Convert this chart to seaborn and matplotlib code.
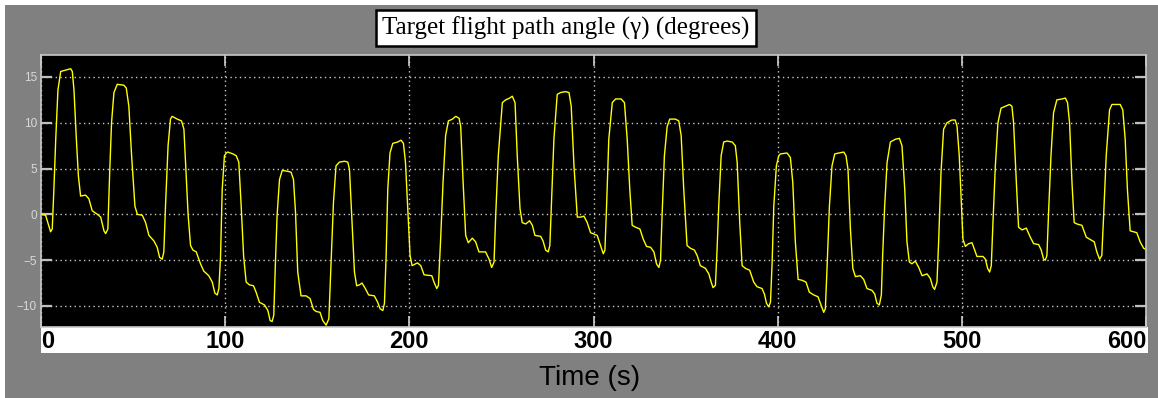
import matplotlib
matplotlib.use("Agg")
import matplotlib.pyplot as plt
from matplotlib.patches import Rectangle
import seaborn as sns
import pandas as pd

# ---- data ----
time_s = [
    0, 2.5, 5.2, 6.1, 7.0, 8.0, 9.2, 10.7, 14.3, 16.1, 17.0, 17.9, 19.2, 20.3, 21.5, 24.2, 26.0, 27.8, 30.6, 32.4, 34.2, 35.1, 36.3,
    37.3, 38.3, 39.6, 41.4, 45.0, 46.3, 47.7, 49.2, 51.0, 52.3, 55.0, 56.8, 58.6, 61.3, 63.1, 64.4, 65.8, 66.7,
    67.6, 69.0, 70.3, 71.2, 74.0, 76.3, 77.6, 78.5, 79.9, 81.2, 82.5, 84.3, 86.6, 88.4, 91.1, 93.0, 94.4, 95.7, 96.6,
    97.5, 98.4, 99.6, 100.6, 101.5, 104.2, 106.0, 107.4, 108.7, 110.0, 111.4, 113.2, 115.4, 116.8, 118.6, 121.4, 123.2, 124.4, 125.5, 126.4,
    127.3, 128.2, 129.5, 131.0, 134.0, 135.8, 137.1, 138.2, 139.4, 141.2, 144.0, 146.1, 148.0, 149.4, 151.5, 153.0, 154.8, 156.3,
    157.5, 158.8, 160.2, 162.0, 164.8, 166.6, 167.5, 168.9, 170.2, 171.4, 172.9, 174.3, 176.1, 177.9, 181.0, 182.8, 184.1, 185.6, 186.5,
    187.4, 188.3, 189.5, 191.0, 193.7, 195.5, 196.8, 197.9, 199.1, 200.4, 201.5, 204.4, 206.2, 208.0, 212.2, 213.4, 214.9, 215.8,
    217.0, 218.3, 219.7, 221.2, 223.4, 225.2, 227.0, 227.9, 229.2, 230.6, 232.0, 234.2, 236.0, 237.8, 241.4, 243.3, 244.7, 246.0,
    246.9, 248.3, 250.5, 252.3, 254.5, 255.9, 257.4, 258.6, 260.1, 261.3, 263.2, 265.3, 266.8, 268.2, 271.3, 272.6, 274.0, 275.4, 276.3,
    277.3, 278.5, 280.3, 282.1, 284.8, 286.7, 287.9, 289.4, 291.2, 293.0, 294.8, 296.6, 298.4, 300.8, 302.0, 303.8, 305.3, 306.2,
    307.1, 308.3, 310.2, 312.0, 315.0, 316.8, 318.3, 319.7, 321.0, 322.8, 325.2, 327.0, 328.8, 331.0, 332.8, 334.2, 335.5, 336.4,
    337.3, 338.5, 340.0, 341.4, 344.5, 346.3, 347.6, 349.0, 350.8, 352.6, 354.8, 356.3, 358.0, 360.8, 362.6, 363.9, 364.9, 366.2,
    367.1, 368.0, 369.3, 370.7, 372.5, 375.3, 377.0, 378.0, 379.4, 380.7, 382.5, 384.8, 387.0, 388.8, 391.5, 392.8, 393.9, 395.1, 396.1,
    397.0, 397.9, 399.3, 400.6, 401.5, 405.1, 406.9, 408.2, 409.6, 411.1, 413.3, 415.4, 417.2, 419.6, 421.9, 423.2, 425.0, 425.9,
    426.8, 428.1, 429.5, 431.0, 433.2, 435.9, 437.1, 438.2, 439.5, 440.8, 442.2, 444.9, 446.7, 448.5, 451.2, 452.7, 453.9, 455.2, 456.3,
    457.0, 458.1, 459.4, 461.2, 463.9, 466.1, 467.5, 469.0, 470.2, 471.5, 472.9, 474.7, 476.6, 478.4, 481.1, 482.9, 484.2, 485.2, 486.5,
    487.4, 488.7, 490.1, 491.9, 494.6, 496.4, 497.4, 498.6, 499.7, 500.6, 501.9, 503.7, 505.5, 506.8, 508.2, 511.5, 512.8, 514.0, 515.1, 516.0,
    516.9, 518.2, 519.6, 521.3, 523.6, 525.9, 527.2, 528.1, 529.6, 530.8, 532.7, 535.0, 537.2, 539.0, 541.7, 543.1, 544.4, 545.3, 546.2,
    547.1, 548.4, 549.8, 551.6, 554.4, 556.2, 557.4, 558.5, 559.8, 561.0, 562.5, 565.2, 567.6, 569.7, 571.9, 573.3, 574.8, 576.0,
    577.0, 578.4, 580.2, 581.5, 586.0, 587.4, 588.7, 589.9, 591.4, 593.2, 595.0, 596.8, 598.7, 600.5,
]
gamma_deg = [
    0, -0.1, -1.9, -1.6, 2.75, 8.2, 13.6, 15.6, 15.8, 15.9, 15.6, 13.6, 8.2, 4.2, 2.0, 2.1, 1.7, 0.4, 0.0, -0.3, -1.8, -2.1, -1.6,
    4.6, 10.0, 13.3, 14.2, 14.1, 13.8, 11.8, 6.4, 0.9, 0.0, -0.1, -0.9, -2.3, -2.9, -3.6, -4.7, -4.9, -4.1,
    0.9, 7.5, 10.4, 10.7, 10.4, 10.2, 9.3, 5.7, -0.1, -3.4, -3.9, -4.1, -5.4, -6.2, -6.7, -7.4, -8.6, -8.8, -8.1,
    -4.5, 2.75, 6.4, 6.7, 6.8, 6.6, 6.4, 5.7, 0.9, -4.5, -7.4, -7.7, -7.8, -8.5, -9.6, -9.9, -10.5, -11.6, -11.7, -11.0,
    -5.2, -0.1, 3.8, 4.8, 4.7, 4.6, 3.8, 0.2, -6.3, -8.9, -8.9, -9.2, -10.4, -10.6, -10.7, -11.6, -12.1, -11.4,
    -5.2, 1.3, 5.3, 5.7, 5.8, 5.7, 4.9, -0.9, -6.3, -7.8, -7.7, -7.5, -8.1, -8.8, -8.9, -9.6, -10.3, -10.5, -9.7,
    -4.5, 2.75, 6.7, 7.75, 7.9, 8.1, 7.75, 5.7, 0.9, -4.5, -5.6, -5.3, -5.6, -6.6, -6.7, -7.4, -8.1, -7.75,
    -2.7, 3.5, 8.6, 10.2, 10.4, 10.7, 10.5, 9.6, 3.5, -2.3, -3.1, -2.6, -3.0, -4.1, -4.1, -4.9, -5.8, -5.2,
    -0.1, 6.4, 12.2, 12.5, 12.7, 12.9, 12.2, 6.4, 0.6, -0.9, -1.05, -0.7, -1.2, -2.3, -2.4, -2.9, -3.9, -4.1, -3.4,
    2.0, 8.2, 13.1, 13.3, 13.4, 13.3, 11.8, 5.3, -0.3, -0.3, -0.2, -0.9, -2.0, -2.2, -2.3, -3.4, -4.3, -3.9,
    0.9, 8.2, 12.2, 12.6, 12.6, 12.2, 8.2, 2.75, -1.2, -1.4, -1.6, -2.7, -3.5, -3.6, -4.1, -5.4, -5.8, -5.0,
    0.2, 6.4, 9.6, 10.4, 10.4, 10.2, 8.6, 2.75, -3.4, -3.7, -3.9, -4.5, -5.6, -5.9, -6.5, -7.4, -8.0, -7.75,
    -3.8, 0.9, 6.4, 7.9, 8.0, 7.9, 7.5, 5.7, -0.9, -5.6, -5.9, -6.1, -7.4, -7.9, -8.1, -8.7, -9.7, -10.1, -9.6,
    -5.2, 0.9, 5.3, 6.4, 6.6, 6.7, 6.2, 3.5, -3.0, -7.1, -7.2, -7.4, -8.5, -8.8, -9.0, -9.7, -10.7, -10.3,
    -5.9, 0.9, 5.3, 6.6, 6.7, 6.8, 6.4, 4.9, -1.6, -5.9, -6.8, -6.7, -7.1, -8.1, -8.3, -8.7, -9.7, -9.9, -8.8,
    -4.5, 0.9, 5.65, 7.9, 8.2, 8.3, 7.5, 2.75, -3.0, -5.2, -5.4, -5.1, -5.8, -6.7, -6.5, -7.0, -7.9, -8.2, -7.4,
    -3.0, 4.6, 9.3, 10.0, 10.3, 10.3, 9.6, 6.4, 1.5, -2.7, -3.5, -3.2, -3.1, -3.8, -4.6, -4.6, -4.9, -5.9, -6.3, -5.6,
    -0.9, 5.3, 10.0, 11.6, 11.8, 12.0, 11.8, 10.0, 3.5, -1.4, -1.7, -1.5, -2.5, -3.2, -3.3, -3.9, -4.9, -5.0, -4.5,
    0.2, 6.4, 11.1, 12.5, 12.6, 12.7, 12.2, 10.0, 3.5, -0.9, -1.05, -1.2, -2.5, -2.75, -3.0, -4.1, -4.9, -4.5,
    -0.1, 6.4, 11.4, 12.0, 12.0, 11.4, 8.2, 2.75, -1.8, -1.9, -2.0, -3.0, -3.7, -3.9,
]
x_ticks = [0, 100, 200, 300, 400, 500, 600]
y_ticks = [-10, -5, 0, 5, 10, 15]
title_text = "Target flight path angle (\u03b3) (degrees)"
xlabel_text = "Time (s)"

df = pd.DataFrame({"t": time_s, "gamma": gamma_deg})

W, H = 1158, 398
fig = plt.figure(figsize=(W / 100, H / 100), dpi=100, facecolor="#808080")

# white margins at top and left, white band behind the x tick labels
for rect in [
    ((0, 1 - 5 / H), 1, 5 / H),
    ((0, 0), 5 / W, 1),
    ((41 / W, 1 - 353 / H), (1148 - 41) / W, (353 - 327) / H),
]:
    fig.patches.append(Rectangle(rect[0], rect[1], rect[2], transform=fig.transFigure,
                                 facecolor="white", edgecolor="none", zorder=-5))

ax = fig.add_axes([41 / W, 1 - 327 / H, (1146 - 41) / W, (327 - 55) / H])
ax.set_facecolor("black")

sns.lineplot(data=df, x="t", y="gamma", ax=ax, color="#ffff00", linewidth=1.0,
             estimator=None, sort=False)

ax.set_xlim(0, 600)
ax.set_ylim(-12.3, 17.4)
ax.set_xticks(x_ticks)
ax.set_yticks(y_ticks)
ax.set_xlabel("")
ax.set_ylabel("")

ax.grid(True, color="#c8c8c8", linestyle=(0, (1, 2.4)), linewidth=1.0)
ax.set_axisbelow(True)

for s in ax.spines.values():
    s.set_color("#c8c8c8")
    s.set_linewidth(1.2)

ax.tick_params(axis="y", direction="in", length=8, width=1.6, color="#c0c0c0",
               left=True, right=True, labelcolor="#d8d8d8", labelsize=8.5, pad=3)
ax.tick_params(axis="x", direction="in", length=8, width=1.2, color="#d0d0d0",
               bottom=True, top=True, labelcolor="black", labelsize=17, pad=2)

ax.set_xticklabels([str(v) for v in x_ticks], fontweight="bold",
                   family="Liberation Sans")
labels = ax.get_xticklabels()
labels[0].set_ha("left")
labels[-1].set_ha("right")
for lab in ax.get_yticklabels():
    lab.set_family("Liberation Sans")

fig.text(590 / W, 1 - 378 / H, xlabel_text, ha="center", va="center",
         fontsize=20, family="Liberation Sans", color="black")

fig.text(566 / W, 1 - 28 / H, title_text, ha="center", va="center",
         fontsize=18, family="Liberation Serif", color="black",
         bbox=dict(boxstyle="square,pad=0.25", facecolor="white",
                   edgecolor="black", linewidth=1.8))

fig.savefig("out.png", dpi=100, facecolor=fig.get_facecolor())
